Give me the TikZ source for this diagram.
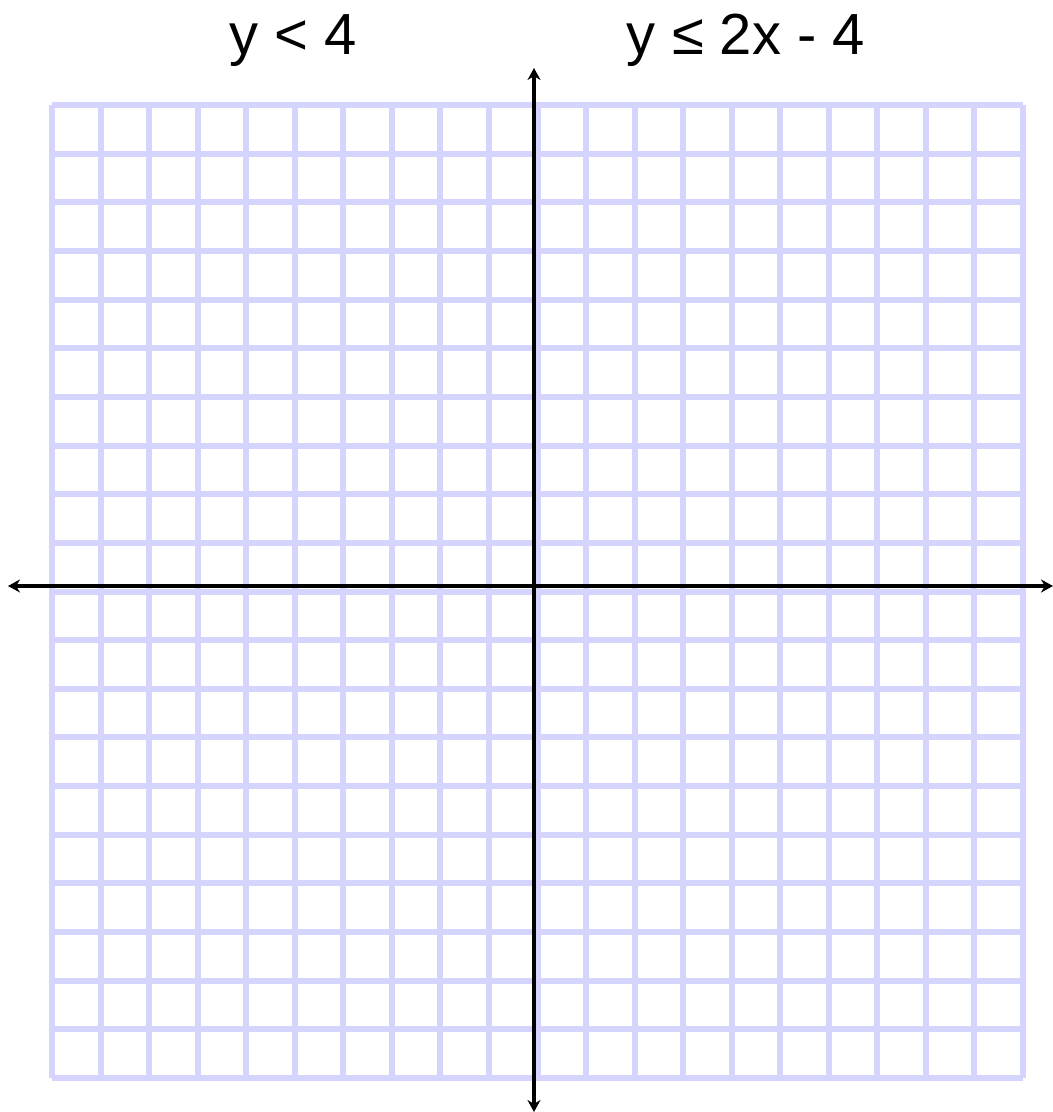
\documentclass[tikz,border=0pt]{standalone}
\usepackage{fontspec}
\setmainfont{Liberation Sans}
\usetikzlibrary{arrows.meta}
\definecolor{gridc}{RGB}{212,212,252}
\begin{document}
\begin{tikzpicture}[x=1pt,y=-1pt,
  gridline/.style={draw=gridc,line width=6pt},
  axisline/.style={draw=black,line width=3.5pt,{Stealth[length=12pt,width=13pt]}-{Stealth[length=12pt,width=13pt]}},
  title/.style={anchor=base,font=\fontsize{58}{60}\selectfont,inner sep=0pt}]
\useasboundingbox (0,0) rectangle (1053,1112);
\fill[white] (0,0) rectangle (1053,1112);
\foreach \k in {0,...,20}{
  \draw[gridline] ({52+48.55*\k},105) -- ({52+48.55*\k},1078);
  \draw[gridline] (52,{105+48.65*\k}) -- (1023,{105+48.65*\k});
}
\coordinate (L) at (8,586);
\coordinate (R) at (1053,586);
\coordinate (T) at (534,68);
\coordinate (B) at (534,1112);
\draw[axisline] (L) -- (R);
\draw[axisline] (B) -- (T);
\node[title] (t1) at (293,54) {y < 4};
\node[title] (t2) at (746,54) {y ≤ 2x - 4};
\end{tikzpicture}
\end{document}
